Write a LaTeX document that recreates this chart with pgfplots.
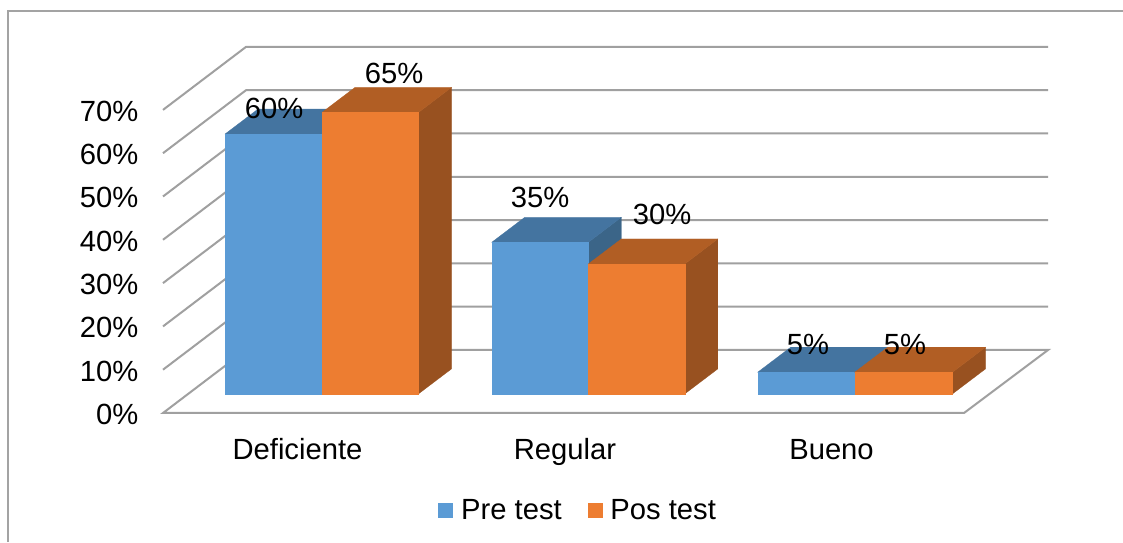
\documentclass[border=0pt]{standalone}
\usepackage{pgfplots}
\usepackage{fontspec}
\setmainfont{Liberation Sans}
\pgfplotsset{compat=1.18}

\definecolor{gridgray}{HTML}{A0A0A0}
\definecolor{framegray}{HTML}{A3A3A3}
\definecolor{prefront}{HTML}{5B9BD5}
\definecolor{pretop}{HTML}{4474A0}
\definecolor{preside}{HTML}{3B6588}
\definecolor{posfront}{HTML}{ED7D31}
\definecolor{postop}{HTML}{B15E24}
\definecolor{posside}{HTML}{985120}

% One drawing unit on x is 0.75pt; one percent on y is 4.33 of those units.
\newcommand{\chartfont}{\fontsize{21.9}{26}\selectfont}

% Wall gridline: starts on the front plane, runs back, then along the wall.
\newcommand{\wallline}[1]{%
  \pgfmathsetmacro{\backv}{#1+14.55}%
  \addplot[gridgray, line width=1.5pt, line join=miter] coordinates {(163,#1) (246,\backv) (1048,\backv)};%
}

% A box with its front face on x from #1 to #2 and height #3 percent;
% #4 is the colour prefix (pre or pos).
\newcommand{\boxbar}[4]{%
  \pgfmathsetmacro{\xb}{#1+33}%
  \pgfmathsetmacro{\xc}{#2+33}%
  \pgfmathsetmacro{\vb}{#3+5.77}%
  \addplot[fill=#4side, draw=#4side, line width=0.2pt, forget plot] coordinates {(#2,0) (\xc,5.77) (\xc,\vb) (#2,#3)} -- cycle;%
  \addplot[fill=#4top, draw=#4top, line width=0.2pt, forget plot] coordinates {(#1,#3) (#2,#3) (\xc,\vb) (\xb,\vb)} -- cycle;%
  \addplot[fill=#4front, draw=#4front, line width=0.2pt, forget plot] coordinates {(#1,0) (#2,0) (#2,#3) (#1,#3)} -- cycle;%
}

\pgfplotsset{
  legendsquare/.style={
    legend image code/.code={
      \fill[##1, draw=none] (0pt,-5.5pt) rectangle (11.25pt,5.5pt);
      \path[draw=none, fill=none] (0pt,0pt) -- (15pt,0pt);
    }
  }
}

\begin{document}
\begin{tikzpicture}[x=1pt,y=1pt]
  \useasboundingbox (0,0) rectangle (842.25,406.5);
  \fill[white] (0,0) rectangle (842.25,406.5);
  % chart area border, cut off at the right and at the bottom
  \draw[framegray, line width=1.3pt] (6,0) -- (6,398.25) -- (842.25,398.25);

  % walls, floor and the percentage scale
  \begin{axis}[
    at={(122.25pt,96.75pt)}, anchor=south west,
    x=0.75pt, y=3.2475pt,
    xmin=163, xmax=1048, ymin=0, ymax=84.55,
    axis line style={draw=none},
    major tick length=0pt,
    clip=false,
    ytick={0,10,20,30,40,50,60,70},
    yticklabel={\pgfmathprintnumber{\tick}\%},
    yticklabel style={font=\chartfont, anchor=east, xshift=-15pt, yshift=-1pt},
    xtick={297.5,565,831.5},
    xticklabels={Deficiente,Regular,Bueno},
    xticklabel style={font=\chartfont, anchor=base, text height=16pt, text depth=5pt, yshift=-35pt},
    /pgf/number format/assume math mode=true,
  ]
    \addplot[gridgray, line width=1.5pt, line join=miter] coordinates {(163,0) (964,0) (1048,14.55) (246,14.55)} -- cycle;
    \wallline{10}
    \wallline{20}
    \wallline{30}
    \wallline{40}
    \wallline{50}
    \wallline{60}
    \wallline{70}
  \end{axis}

  % boxes stand a little in front of the wall, so their base sits higher
  \begin{axis}[
    at={(122.25pt,111.1pt)}, anchor=south west,
    x=0.75pt, y=3.2475pt,
    xmin=163, xmax=1048, ymin=0, ymax=70,
    hide axis,
    clip=false,
    legend columns=2,
    legend cell align=left,
    legend style={
      at={(0.4695,-0.385)}, anchor=center,
      draw=none, fill=none, font=\chartfont,
      inner sep=0pt, outer sep=0pt,
      /tikz/every even column/.append style={column sep=17.5pt},
    },
    /pgf/number format/assume math mode=true,
  ]
    \addlegendimage{legendsquare, fill=prefront}
    \addlegendentry{Pre test}
    \addlegendimage{legendsquare, fill=posfront}
    \addlegendentry{Pos test}

    \boxbar{225}{322}{60}{pre}
    \boxbar{322}{418.5}{65}{pos}
    \boxbar{491.7}{588.3}{35}{pre}
    \boxbar{588.3}{684.8}{30}{pos}
    \boxbar{757.7}{854.7}{5}{pre}
    \boxbar{854.7}{952.5}{5}{pos}

    % value labels: x is the label's centre, lift its distance above the bar top
    \addplot[
      only marks, mark=none, forget plot,
      point meta=y,
      visualization depends on={\thisrow{lift} \as \lift},
      nodes near coords={\pgfmathprintnumber{\pgfplotspointmeta}\%},
      nodes near coords align={center},
      nodes near coords style={font=\chartfont, text=black, anchor=center, inner sep=0pt, yshift=\lift*0.75pt},
    ] table[x=x, y=v] {
      x   v  lift
      274 60 26
      394 65 39
      540 35 45
      662 30 50
      808 5  28
      905 5  28
    };
  \end{axis}
\end{tikzpicture}
\end{document}
